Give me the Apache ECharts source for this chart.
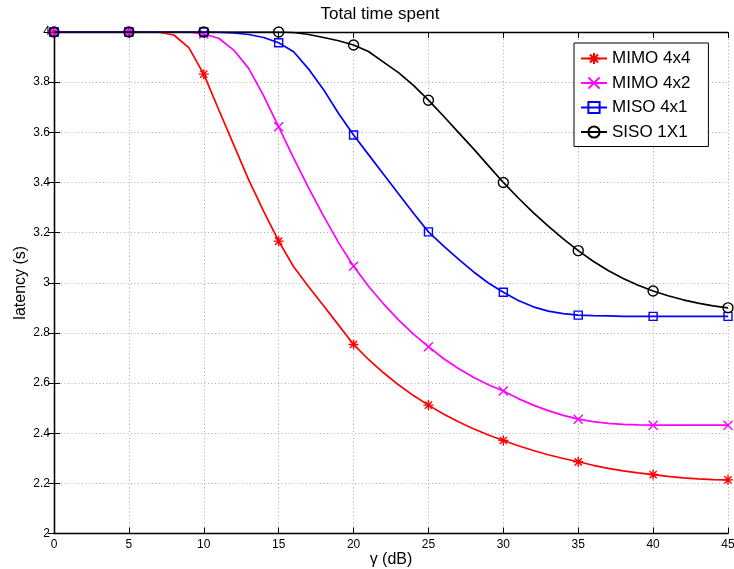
<!DOCTYPE html>
<html>
<head>
<meta charset="utf-8">
<script src="https://cdn.jsdelivr.net/npm/echarts@6/dist/echarts.min.js"></script>
<style>
html,body{margin:0;padding:0;background:#fff;}
#chart{width:734px;height:569px;}
</style>
</head>
<body>
<div id="chart"></div>
<script>
// gamma (dB) sample points
const gammaDB = [0,1,2,3,4,5,6,7,8,9,10,11,12,13,14,15,16,17,18,19,20,21,22,23,24,25,26,27,28,29,30,31,32,33,34,35,36,37,38,39,40,41,42,43,44,45];
// markers are drawn every 5 dB
const markerGammas = [0,5,10,15,20,25,30,35,40,45];

const mimo4x4 = [4,4,4,4,4,4,4,3.999,3.988,3.938,3.832,3.69,3.55,3.41,3.285,3.166,3.064,2.984,2.908,2.831,2.754,2.694,2.641,2.593,2.55,2.512,2.477,2.446,2.418,2.393,2.371,2.35,2.331,2.314,2.299,2.286,2.272,2.26,2.25,2.242,2.235,2.228,2.222,2.218,2.215,2.214];
const mimo4x2 = [4,4,4,4,4,4,4,4,4,4,3.992,3.975,3.928,3.855,3.745,3.622,3.497,3.378,3.266,3.16,3.066,2.986,2.916,2.852,2.795,2.745,2.698,2.658,2.623,2.593,2.568,2.538,2.512,2.49,2.471,2.456,2.446,2.439,2.435,2.433,2.432,2.432,2.432,2.432,2.432,2.432];
const miso4x1 = [4,4,4,4,4,4,4,4,4,4,4,3.999,3.996,3.99,3.978,3.957,3.921,3.852,3.77,3.675,3.589,3.511,3.433,3.355,3.277,3.203,3.147,3.094,3.044,2.999,2.962,2.929,2.904,2.887,2.877,2.871,2.869,2.868,2.866,2.866,2.866,2.866,2.866,2.866,2.866,2.866];
const siso1x1 = [4,4,4,4,4,4,4,4,4,4,4,4,4,4,4,4,3.998,3.99,3.978,3.965,3.948,3.922,3.88,3.838,3.787,3.728,3.665,3.6,3.535,3.467,3.4,3.338,3.28,3.226,3.175,3.128,3.086,3.049,3.017,2.99,2.967,2.948,2.932,2.919,2.908,2.9];

const seriesNames = ['MIMO 4x4','MIMO 4x2','MISO 4x1','SISO 1X1'];
const xTicks = {min:0, max:45, interval:5};
const yTicks = {min:2, max:4, interval:0.2};

const FONT = '"Liberation Sans", Arial, Helvetica, sans-serif';
const ASTERISK = 'path://M0,-1L0,1M-1,0L1,0M-0.72,-0.72L0.72,0.72M-0.72,0.72L0.72,-0.72';
const CROSS = 'path://M-1,-1L1,1M-1,1L1,-1';

function buildData(values){
  return gammaDB.map((g,i)=>{
    const item = {value:[g, values[i]]};
    if (markerGammas.indexOf(g) < 0) item.symbol = 'none';
    return item;
  });
}

const styles = [
  {color:'#ff0000', symbol:ASTERISK, size:10, fill:'#ff0000'},
  {color:'#ff00ff', symbol:CROSS, size:9, fill:'#ff00ff'},
  {color:'#0000ff', symbol:'rect', size:8, fill:'rgba(0,0,0,0)'},
  {color:'#000000', symbol:'circle', size:10, fill:'rgba(0,0,0,0)'}
];
const allValues = [mimo4x4, mimo4x2, miso4x1, siso1x1];

const series = allValues.map((vals, k)=>({
  name: seriesNames[k],
  type:'line',
  data: buildData(vals),
  symbol: styles[k].symbol,
  symbolSize: styles[k].size,
  showSymbol: true,
  showAllSymbol: true,
  animation:false,
  lineStyle:{color:styles[k].color, width:1.7},
  itemStyle:{color:styles[k].fill, borderColor:styles[k].color, borderWidth:1.4},
  emphasis:{disabled:true},
  z: 2 + k
}));

const axisLineStyle = {show:true, lineStyle:{color:'#000', width:1.3}};
const gridLine = {show:true, lineStyle:{color:'#aaaaaa', width:1, type:[1,2.5]}};

const chart = echarts.init(document.getElementById('chart'), null, {renderer:'canvas'});
chart.setOption({
  backgroundColor:'#fff',
  animation:false,
  textStyle:{fontFamily:FONT},
  grid:{left:54, right:6, top:32, bottom:35.5, containLabel:false, outerBoundsMode:'none'},
  graphic:[{
    type:'text', x:380, y:14,
    style:{text:'Total time spent', font:'17px ' + FONT, fill:'#000', textAlign:'center', textVerticalAlign:'middle'}
  }],
  legend:{
    orient:'vertical', left:574, top:43,
    padding:[7,18,6,6],
    itemWidth:26, itemHeight:14, itemGap:7.5,
    borderColor:'#000', borderWidth:1, backgroundColor:'#fff',
    textStyle:{fontSize:17, color:'#000', fontFamily:FONT, lineHeight:16},
    data: seriesNames
  },
  xAxis:[{
    type:'value', position:'bottom', min:xTicks.min, max:xTicks.max, interval:xTicks.interval,
    name:'\u03b3 (dB)', nameLocation:'middle', nameGap:18, nameMoveOverlap:false,
    nameTextStyle:{fontSize:16, color:'#000', fontFamily:FONT},
    axisLine:axisLineStyle,
    axisTick:{show:true, inside:true, length:6, lineStyle:{color:'#000'}},
    axisLabel:{fontSize:12, color:'#000', margin:5, fontFamily:FONT},
    splitLine:gridLine
  },{
    type:'value', position:'top', min:xTicks.min, max:xTicks.max, interval:xTicks.interval,
    axisLine:axisLineStyle,
    axisTick:{show:true, inside:true, length:6, lineStyle:{color:'#000'}},
    axisLabel:{show:false}, splitLine:{show:false}
  }],
  yAxis:[{
    type:'value', position:'left', min:yTicks.min, max:yTicks.max, interval:yTicks.interval,
    name:'latency (s)', nameLocation:'middle', nameGap:25, nameMoveOverlap:false,
    nameTextStyle:{fontSize:16, color:'#000', fontFamily:FONT},
    axisLine:axisLineStyle,
    axisTick:{show:true, inside:true, length:6, lineStyle:{color:'#000'}},
    axisLabel:{fontSize:12, color:'#000', margin:4, fontFamily:FONT,
      formatter:(v)=>String(Math.round(v*10)/10)},
    splitLine:gridLine
  },{
    type:'value', position:'right', min:yTicks.min, max:yTicks.max, interval:yTicks.interval,
    axisLine:axisLineStyle,
    axisTick:{show:true, inside:true, length:6, lineStyle:{color:'#000'}},
    axisLabel:{show:false}, splitLine:{show:false}
  }],
  series: series
});
</script>
</body>
</html>
